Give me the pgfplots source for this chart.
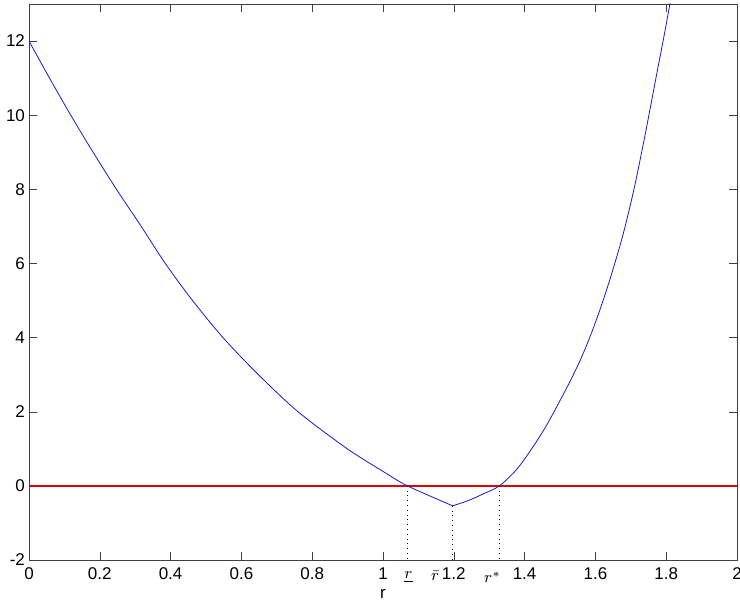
\documentclass[border=0pt]{standalone}
\usepackage{pgfplots}
\pgfplotsset{compat=1.18}
\usepackage{fontspec}
\setmainfont{Liberation Sans}
\definecolor{zeroline}{RGB}{225,0,0}
\definecolor{curve}{RGB}{25,25,200}

\begin{document}
\fontsize{8.5}{10}\selectfont
\begin{tikzpicture}
\begin{axis}[
    scale only axis,
    width=354pt,
    height=278pt,
    xmin=0, xmax=2,
    ymin=-2, ymax=13,
    xtick={0,0.2,...,2},
    ytick={-2,0,...,12},
    xticklabels={0,0.2,0.4,0.6,0.8,1,1.2,1.4,1.6,1.8,2},
    tick align=inside,
    tick pos=both,
    major tick length=4pt,
    axis line style={black!75},
    tick style={black!75},
    clip mode=individual,
    /pgf/number format/assume math mode=true,
    xticklabel style={yshift=-1pt},
    yticklabel style={xshift=1pt},
    xlabel={r},
    xlabel style={yshift=1pt},
]

% zero line
\addplot[color=zeroline, solid, line width=0.9pt] coordinates {(0,0) (2,0)};

% f(r), left branch down to the kink at r-bar
\addplot[color=curve, thin, smooth] coordinates {
    (0,12) (0.058,11) (0.118,10) (0.181,9) (0.247,8) (0.317,7)
    (0.385,6) (0.462,5) (0.548,4) (0.648,3) (0.760,2) (0.899,1)
    (1.0,0.39) (1.069,0) (1.197,-0.54)
};
% right branch
\addplot[color=curve, thin, smooth] coordinates {
    (1.197,-0.54) (1.24,-0.40) (1.28,-0.23) (1.329,0) (1.378,0.45)
    (1.42,1.0) (1.46,1.6) (1.50,2.3) (1.53,2.85) (1.56,3.45)
    (1.59,4.15) (1.62,4.95) (1.65,5.85) (1.68,6.85) (1.71,8.05)
    (1.74,9.45) (1.77,10.95) (1.80,12.45) (1.83,14.05)
};

% dotted drops to the axis
\addplot[color=black, dotted, thin] coordinates {(1.069,0) (1.069,-2)};
\addplot[color=black, dotted, thin] coordinates {(1.197,-0.54) (1.197,-2)};
\addplot[color=black, dotted, thin] coordinates {(1.329,0) (1.329,-2)};

\node[anchor=north, inner sep=1pt] at (axis cs:1.072,-2.25) {$\underline{r}$};
\node[anchor=north east, inner sep=1pt] at (axis cs:1.166,-2.25) {$\bar{r}$};
\node[anchor=north east, inner sep=1pt] at (axis cs:1.34,-2.25) {$r^{*}$};
\end{axis}
\pgfresetboundingbox
\path[use as bounding box] ([shift={(-14.5pt,-24.5pt)}]current axis.south west)
    rectangle ([shift={(1.5pt,2pt)}]current axis.north east);
\end{tikzpicture}
\end{document}
